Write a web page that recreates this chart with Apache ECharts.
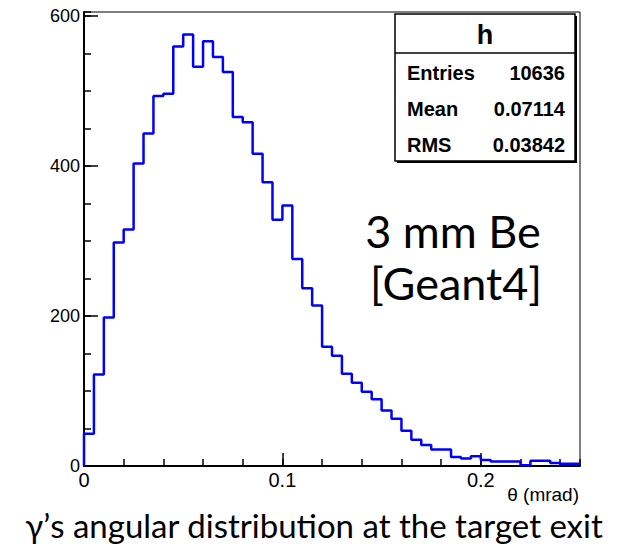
<!DOCTYPE html>
<html>
<head>
<meta charset="utf-8">
<script src="https://cdn.jsdelivr.net/npm/echarts@6/dist/echarts.min.js"></script>
<style>
html,body{margin:0;padding:0;background:#fff;}
#chart{width:624px;height:544px;}
</style>
</head>
<body>
<div id="chart"></div>
<script>
// Histogram "h": gamma angular distribution, 50 bins of 0.005 mrad from 0 to 0.25
var binWidth = 0.005;
var counts = [43,122,198,298,315,403,443,493,496,559,
              575,532,566,545,525,465,458,416,378,328,
              347,276,237,214,159,147,123,111,99,89,
              74,63,47,35,28,22,22,12,10,13,
              8,6,6,6,1,7,7,4,3,3];
var yTicks = [0,200,400,600];
var xTicks = [0,0.1,0.2];
var statsTitle = 'h';
var statsRows = [['Entries','10636'],['Mean','0.07114'],['RMS','0.03842']];
var labelText = ['3 mm Be','[Geant4]'];
var caption = '\u03b3\u2019s angular distribution at the target exit';
var xTitle = '\u03b8 (mrad)';

// step points: bin low edges + closing edge
var pts = [[0,0]];
for (var i=0;i<counts.length;i++){ pts.push([+(i*binWidth).toFixed(4), counts[i]]); }
pts.push([+(counts.length*binWidth).toFixed(4), counts[counts.length-1]]);

var font = '"Liberation Sans", Arial, Helvetica, sans-serif';
var cal = 'Lato, "Open Sans", sans-serif';
var chart = echarts.init(document.getElementById('chart'), null, {renderer:'svg'});
var grid = {left:84, right:44, top:12, bottom:78, show:true, borderColor:'#000', borderWidth:1, backgroundColor:'#fff'};

var g = [
  {type:'rect', shape:{x:397,y:16,width:180,height:147}, style:{fill:'#000'}, z:9},
  {type:'rect', shape:{x:395,y:14,width:180,height:147}, style:{fill:'#fff',stroke:'#000',lineWidth:1.5}, z:10},
  {type:'line', shape:{x1:395,y1:53,x2:575,y2:53}, style:{stroke:'#000',lineWidth:1.5}, z:11},
  {type:'text', x:485, y:35, style:{text:statsTitle, font:'bold 27px '+font, fill:'#000', textAlign:'center', textVerticalAlign:'middle'}, z:12}
];
var rowY = [73,109,145];
statsRows.forEach(function(r,k){
  g.push({type:'text', x:407, y:rowY[k], style:{text:r[0], font:'bold 20px '+font, fill:'#000', textAlign:'left', textVerticalAlign:'middle'}, z:12});
  g.push({type:'text', x:565, y:rowY[k], style:{text:r[1], font:'bold 20px '+font, fill:'#000', textAlign:'right', textVerticalAlign:'middle'}, z:12});
});
g.push({type:'text', x:453, y:231, style:{text:labelText[0], font:'45px '+cal, fill:'#000', textAlign:'center', textVerticalAlign:'middle'}, z:12});
g.push({type:'text', x:456, y:283, style:{text:labelText[1], font:'45px '+cal, fill:'#000', textAlign:'center', textVerticalAlign:'middle'}, z:12});
g.push({type:'text', x:579, y:494, style:{text:xTitle, font:'19px '+font, fill:'#000', textAlign:'right', textVerticalAlign:'middle'}, z:12});
g.push({type:'text', x:314, y:525, style:{text:caption, font:'33px '+cal, fill:'#000', textAlign:'center', textVerticalAlign:'middle'}, z:12});

chart.setOption({
  animation:false,
  backgroundColor:'#fff',
  grid: grid,
  xAxis: [
    {type:'value', min:0, max:0.25, interval:0.02, position:'bottom',
     axisLine:{show:true, lineStyle:{color:'#000', width:2}},
     axisTick:{show:true, inside:true, length:7, lineStyle:{color:'#000', width:1.5}},
     axisLabel:{show:false}, splitLine:{show:false}},
    {type:'value', min:0, max:0.25, interval:0.1, position:'bottom',
     axisLine:{show:false},
     axisTick:{show:true, inside:true, length:13, lineStyle:{color:'#000', width:1.5}},
     axisLabel:{show:true, showMaxLabel:false, margin:4, color:'#000', fontSize:20, fontFamily:font,
       formatter:function(v){ var r=Math.round(v*10)/10; return xTicks.indexOf(r) >= 0 ? String(r) : ''; }},
     splitLine:{show:false}}
  ],
  yAxis: [
    {type:'value', min:0, max:605, interval:50, position:'left',
     axisLine:{show:true, lineStyle:{color:'#000', width:2}},
     axisTick:{show:true, inside:true, length:7, lineStyle:{color:'#000', width:1.5}},
     axisLabel:{show:false}, splitLine:{show:false}},
    {type:'value', min:0, max:605, interval:200, position:'left',
     axisLine:{show:false},
     axisTick:{show:true, inside:true, length:14, lineStyle:{color:'#000', width:1.5}},
     axisLabel:{show:true, showMaxLabel:false, margin:4, color:'#000', fontSize:18, fontFamily:font,
       padding:[2,0,0,0],
       formatter:function(v){ return yTicks.indexOf(v) >= 0 ? String(v) : ''; }},
     splitLine:{show:false}}
  ],
  series: [{
    type:'line', xAxisIndex:0, yAxisIndex:0, data:pts, step:'end', symbol:'none',
    lineStyle:{color:'#0000ff', width:2.5}, clip:true
  }],
  graphic: g
});
</script>
</body>
</html>
